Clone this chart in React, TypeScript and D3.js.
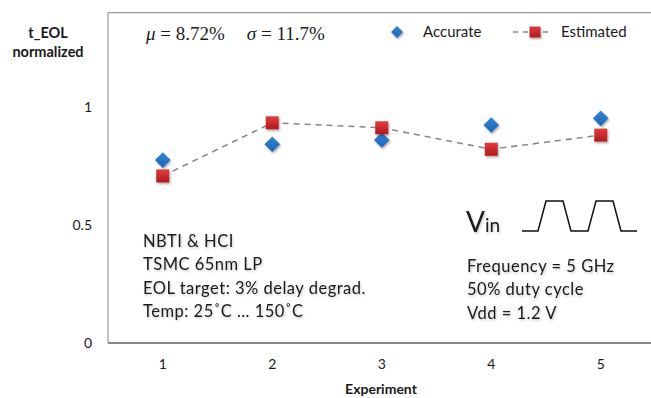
import React from "react";
import * as d3 from "d3";

const categories = ["1", "2", "3", "4", "5"];
const accurate = [0.775, 0.842, 0.86, 0.924, 0.952];
const estimated = [0.708, 0.933, 0.912, 0.821, 0.881];
const yTicks = [0, 0.5, 1];
const yTickLabels = ["0", "0.5", "1"];
const leftNotes = ["NBTI & HCI", "TSMC 65nm LP", "EOL target: 3% delay degrad.", "Temp: 25˚C … 150˚C"];
const rightNotes = ["Frequency = 5 GHz", "50% duty cycle", "Vdd = 1.2 V"];
// waveform in relative units (x: time, y: 0 low / 1 high)
const wave: [number, number][] = [
  [0, 0], [16, 0], [24, 1], [41, 1], [49, 0], [66, 0], [74, 1], [91, 1], [99, 0], [115, 0],
];

const W = 651, H = 398;
const left = 108, top = 12.6, bottom = 343, right = 655.5;
const font = "Lato, 'Open Sans', sans-serif";

export default function App() {
  const x = d3.scaleBand().domain(categories).range([left, right]);
  const y = d3.scaleLinear().domain([0, 1.4]).range([bottom, top]);
  const cx = (c: string) => (x(c) as number) + x.bandwidth() / 2;
  const line = d3
    .line<number>()
    .x((_, i) => cx(categories[i]))
    .y((d) => y(d));
  const wx = d3.scaleLinear().domain([0, 115]).range([522, 637]);
  const wy = d3.scaleLinear().domain([0, 1]).range([231, 201]);
  const wavePath = d3
    .line<[number, number]>()
    .x((d) => wx(d[0]))
    .y((d) => wy(d[1]))(wave);
  const sq = 13;
  const diamond = (px: number, py: number, dm = 7.8) =>
    `M${px},${py - dm}L${px + dm},${py}L${px},${py + dm}L${px - dm},${py}Z`;

  return (
    <svg width={W} height={H} style={{ position: "absolute", left: 0, top: 0, background: "#fff" }}>
      <defs>
        <filter id="sh" x="-50%" y="-50%" width="200%" height="200%">
          <feDropShadow dx="1" dy="1.5" stdDeviation="1.2" floodColor="#000" floodOpacity="0.35" />
        </filter>
        <filter id="tsh" x="-10%" y="-30%" width="120%" height="160%">
          <feDropShadow dx="1" dy="1.5" stdDeviation="1.2" floodColor="#000" floodOpacity="0.22" />
        </filter>
        <linearGradient id="red" x1="0" y1="0" x2="0" y2="1">
          <stop offset="0" stopColor="#e23c3c" />
          <stop offset="1" stopColor="#b01a1e" />
        </linearGradient>
        <linearGradient id="blue" x1="0" y1="0" x2="0" y2="1">
          <stop offset="0" stopColor="#3585d4" />
          <stop offset="1" stopColor="#1b64b4" />
        </linearGradient>
      </defs>

      {/* plot frame */}
      <line x1={left} y1={top} x2={W} y2={top} stroke="#999" strokeWidth={1.2} />
      <line x1={left} y1={top} x2={left} y2={bottom} stroke="#999" strokeWidth={1.2} />
      <line x1={left} y1={bottom} x2={W} y2={bottom} stroke="#888" strokeWidth={1.8} />

      {/* y ticks */}
      {yTicks.map((t, i) => (
        <text key={t} x={92} y={y(t)} dy="0.35em" textAnchor="end" fontFamily={font} fontSize={14} fill="#1a1a1a">
          {yTickLabels[i]}
        </text>
      ))}
      {/* x ticks */}
      {categories.map((c) => (
        <text key={c} x={cx(c)} y={364} dy="0.35em" textAnchor="middle" fontFamily={font} fontSize={14} fill="#1a1a1a">
          {c}
        </text>
      ))}
      <text x={381} y={389} dy="0.35em" textAnchor="middle" fontFamily={font} fontSize={14} fontWeight="bold" fill="#1a1a1a">
        Experiment
      </text>
      <text x={48} y={33} dy="0.35em" textAnchor="middle" fontFamily={font} fontSize={14.5} fontWeight="bold" fill="#1a1a1a">
        t_EOL
      </text>
      <text x={48} y={52} dy="0.35em" textAnchor="middle" fontFamily={font} fontSize={14.5} fontWeight="bold" fill="#1a1a1a">
        normalized
      </text>

      {/* stats */}
      <text x={146} y={33} dy="0.35em" fontFamily="'Liberation Serif', 'DejaVu Serif', serif" fontSize={19} fill="#1a1a1a">
        <tspan fontStyle="italic">μ</tspan>
        <tspan> = 8.72%</tspan>
        <tspan dx={22} fontStyle="italic">σ</tspan>
        <tspan> = 11.7%</tspan>
      </text>

      {/* legend */}
      <path d={diamond(397, 32, 6)} fill="url(#blue)" filter="url(#sh)" />
      <text x={423} y={32} dy="0.35em" fontFamily={font} fontSize={15} fill="#1a1a1a">Accurate</text>
      <line x1={513} y1={32} x2={553} y2={32} stroke="#888" strokeWidth={1.5} strokeDasharray="5,5" />
      <rect x={535 - 5.5} y={32 - 5.5} width={11} height={11} fill="url(#red)" filter="url(#sh)" />
      <text x={561} y={32} dy="0.35em" fontFamily={font} fontSize={15} fill="#1a1a1a">Estimated</text>

      {/* estimated line */}
      <path d={line(estimated) as string} fill="none" stroke="#888" strokeWidth={1.6} strokeDasharray="6,5" />

      {/* accurate diamonds */}
      {accurate.map((v, i) => (
        <path key={"a" + i} d={diamond(cx(categories[i]), y(v))} fill="url(#blue)" filter="url(#sh)" />
      ))}
      {/* estimated squares */}
      {estimated.map((v, i) => (
        <rect
          key={"e" + i}
          x={cx(categories[i]) - sq / 2}
          y={y(v) - sq / 2}
          width={sq}
          height={sq}
          fill="url(#red)"
          filter="url(#sh)"
        />
      ))}

      {/* notes */}
      <g filter="url(#tsh)" fontFamily={font} fontSize={16.5} letterSpacing={0.5} fill="#1a1a1a">
        {leftNotes.map((t, i) => (
          <text key={t} x={143} y={241 + i * 23.5} dy="0.35em">{t}</text>
        ))}
        {rightNotes.map((t, i) => (
          <text key={t} x={467} y={266 + i * 23.5} dy="0.35em">{t}</text>
        ))}
        <text x={466} y={232} letterSpacing={0}>
          <tspan fontSize={28}>V</tspan>
          <tspan fontSize={19}>in</tspan>
        </text>
      </g>
      <path d={wavePath as string} fill="none" stroke="#111" strokeWidth={1.5} />
    </svg>
  );
}
